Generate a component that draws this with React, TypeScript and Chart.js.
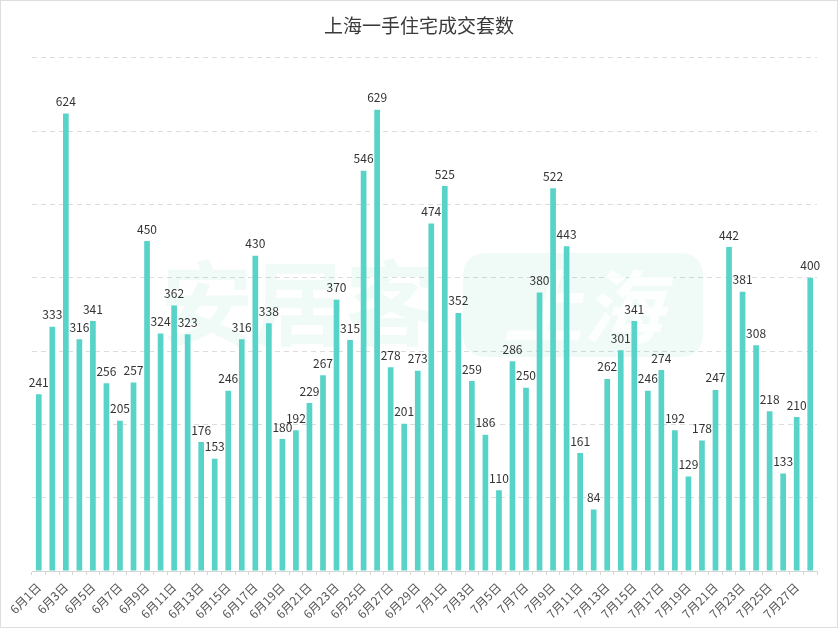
import React, { useEffect, useRef } from "react";
import { Chart, registerables } from "chart.js";

Chart.register(...registerables);

const titleText = "上海一手住宅成交套数";

const juneDays: number[] = Array.from({ length: 30 }, (_, i) => i + 1);
const julyDays: number[] = Array.from({ length: 28 }, (_, i) => i + 1);
const categories: string[] = [
  ...juneDays.map((d) => `6月${d}日`),
  ...julyDays.map((d) => `7月${d}日`),
];

const juneValues: number[] = [
  241, 333, 624, 316, 341, 256, 205, 257, 450, 324,
  362, 323, 176, 153, 246, 316, 430, 338, 180, 192,
  229, 267, 370, 315, 546, 629, 278, 201, 273, 474,
];
const julyValues: number[] = [
  525, 352, 259, 186, 110, 286, 250, 380, 522, 443,
  161, 84, 262, 301, 341, 246, 274, 192, 129, 178,
  247, 442, 381, 308, 218, 133, 210, 400,
];
const values: number[] = [...juneValues, ...julyValues];

const BAR_COLOR = "#58d3c8";
const FONT = "'Noto Sans CJK SC', 'Microsoft YaHei', sans-serif";

const valueLabelPlugin = {
  id: "valueLabels",
  afterDatasetsDraw(chart: any) {
    const { ctx } = chart;
    const meta = chart.getDatasetMeta(0);
    const data = chart.data.datasets[0].data as number[];
    ctx.save();
    ctx.font = `12px ${FONT}`;
    ctx.fillStyle = "#333";
    ctx.textAlign = "center";
    ctx.textBaseline = "bottom";
    meta.data.forEach((el: any, i: number) => {
      ctx.fillText(String(data[i]), el.x, el.y - 6);
    });
    ctx.restore();
  },
};

const watermarkPlugin = {
  id: "watermark",
  beforeDatasetsDraw(chart: any) {
    const { ctx } = chart;
    ctx.save();
    ctx.globalAlpha = 0.07;
    ctx.fillStyle = "#2fc58a";
    ctx.font = `bold 92px ${FONT}`;
    ctx.textBaseline = "middle";
    ctx.textAlign = "left";
    ctx.fillText("安居客", 160, 302);
    const x = 462, y = 252, w = 240, h = 104, r = 24;
    ctx.beginPath();
    ctx.moveTo(x + r, y);
    ctx.lineTo(x + w - r, y);
    ctx.quadraticCurveTo(x + w, y, x + w, y + r);
    ctx.lineTo(x + w, y + h - r);
    ctx.quadraticCurveTo(x + w, y + h, x + w - r, y + h);
    ctx.lineTo(x + r, y + h);
    ctx.quadraticCurveTo(x, y + h, x, y + h - r);
    ctx.lineTo(x, y + r);
    ctx.quadraticCurveTo(x, y, x + r, y);
    ctx.closePath();
    ctx.fill();
    ctx.globalAlpha = 1;
    ctx.fillStyle = "rgba(255,255,255,0.85)";
    ctx.font = `italic bold 80px ${FONT}`;
    ctx.textAlign = "center";
    ctx.fillText("上海", x + w / 2, y + h / 2 + 2);
    ctx.restore();
  },
};

export default function App() {
  const canvasRef = useRef<HTMLCanvasElement | null>(null);

  useEffect(() => {
    if (!canvasRef.current) return;
    const chart = new Chart(canvasRef.current, {
      type: "bar",
      data: {
        labels: categories,
        datasets: [
          {
            data: values,
            backgroundColor: BAR_COLOR,
            barPercentage: 0.42,
            categoryPercentage: 1,
          },
        ],
      },
      options: {
        animation: false,
        responsive: true,
        maintainAspectRatio: false,
        layout: { padding: { left: 20, right: 20, top: 6, bottom: 0 } },
        plugins: {
          legend: { display: false },
          tooltip: { enabled: false },
          title: {
            display: true,
            text: titleText,
            color: "#3a3a3a",
            font: { family: FONT, size: 19, weight: "normal" },
            padding: { top: 7, bottom: 21 },
          },
        },
        scales: {
          x: {
            afterFit: (scale: any) => {
              scale.height = 56;
            },
            grid: {
              drawOnChartArea: false,
              drawTicks: true,
              tickLength: 4,
              color: "#d6d6d6",
            },
            border: { display: true, color: "#d6d6d6" },
            ticks: {
              autoSkip: false,
              maxRotation: 45,
              minRotation: 45,
              color: "#555",
              font: { family: FONT, size: 12 },
              padding: 5,
              callback: (_v: any, i: number) => (i % 2 === 0 ? categories[i] : ""),
            },
          },
          y: {
            min: 0,
            max: 700,
            afterFit: (scale: any) => {
              scale.width = 11;
            },
            ticks: { display: false, stepSize: 100 },
            grid: { color: "#dcdcdc", drawTicks: false },
            border: { display: false, dash: [5, 4] },
          },
        },
      },
      plugins: [watermarkPlugin, valueLabelPlugin],
    });
    return () => chart.destroy();
  }, []);

  return (
    <div
      style={{
        position: "fixed",
        left: 0,
        top: 0,
        width: 838,
        height: 628,
        boxSizing: "border-box",
        border: "1px solid #dedede",
        background: "#fff",
      }}
    >
      <canvas ref={canvasRef} />
    </div>
  );
}
